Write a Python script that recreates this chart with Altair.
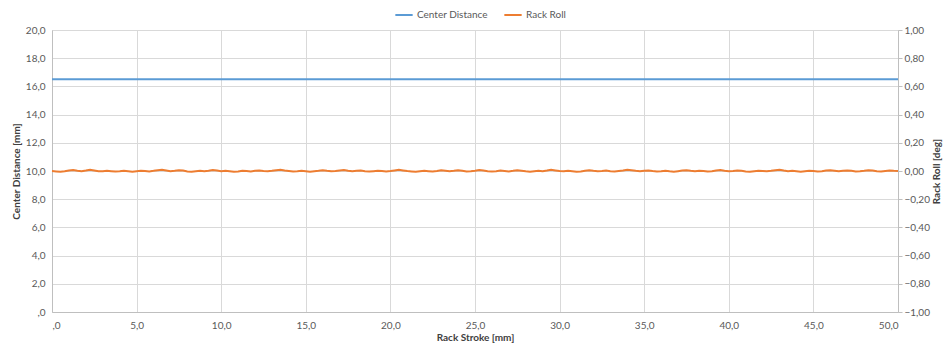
import altair as alt
import pandas as pd

# Data
cd_x = [0.0, 50.0]
cd_y = [16.5, 16.5]

rr_y = [0.000, -0.003, -0.006, -0.002, 0.004, 0.007, 0.002, -0.001, 0.003, 0.008,
        0.003, -0.002, -0.001, 0.002, -0.001, -0.004, -0.002, 0.001, -0.002, -0.005,
        -0.001, 0.002, 0.000, -0.003, 0.001, 0.006, 0.009, 0.004, -0.001, 0.002,
        0.006, 0.003, -0.003, -0.006, -0.002, 0.001, -0.002, 0.002, 0.007, 0.003,
        -0.001, 0.001, -0.002, -0.006, -0.003, 0.002, 0.000, -0.003, 0.001, 0.004,
        0.000, -0.002, 0.001, 0.006, 0.009, 0.003, 0.000, -0.003, -0.001, 0.002,
        -0.001, -0.005, -0.002, 0.001, 0.005, 0.001, -0.002, 0.000, 0.004, 0.007,
        0.002, -0.002, 0.001, 0.003, -0.001, -0.004, -0.001, 0.002, 0.000, -0.003,
        0.000, 0.004, 0.008, 0.004, 0.000, -0.003, -0.006, -0.002, 0.002, -0.001,
        -0.004, 0.000, 0.005, 0.002, -0.002, 0.001, 0.005, 0.002, -0.003, -0.001,
        0.002, 0.007, 0.003, -0.001, -0.004, -0.001, 0.003, 0.000, -0.003, 0.001,
        0.006, 0.002, -0.002, -0.005, -0.002, 0.001, -0.001, 0.003, 0.008, 0.004,
        0.000, -0.002, 0.001, -0.002, -0.006, -0.003, 0.002, 0.005, 0.001, -0.002,
        0.000, 0.003, -0.001, -0.004, 0.000, 0.004, 0.009, 0.005, 0.001, -0.002,
        0.001, 0.004, 0.000, -0.003, -0.001, 0.002, -0.002, -0.005, -0.001, 0.003,
        0.006, 0.002, -0.001, 0.002, 0.000, -0.004, -0.001, 0.003, 0.007, 0.002,
        -0.002, 0.000, 0.004, 0.001, -0.003, -0.006, -0.002, 0.002, 0.000, -0.002,
        0.001, 0.005, 0.008, 0.003, -0.001, 0.001, -0.002, -0.005, -0.001, 0.002,
        0.000, -0.004, -0.001, 0.003, 0.006, 0.002, -0.002, 0.001, 0.004, 0.001,
        -0.003, -0.001, 0.002, 0.006, 0.003, -0.002, -0.004, 0.000, 0.003, 0.001,
        0.000]
rr_x = [i * 0.25 for i in range(201)]

series = ["Center Distance", "Rack Roll"]
colors = ["#5b9bd5", "#ed7d31"]

df_cd = pd.DataFrame({"x": cd_x, "y": cd_y, "series": series[0]})
df_rr = pd.DataFrame({"x": rr_x, "y": rr_y, "series": series[1]})

FONT = "Lato"
LBL = "#595959"
TTL = "#404040"
GRID = "#d9d9d9"

color = alt.Color("series:N", scale=alt.Scale(domain=series, range=colors),
                  legend=alt.Legend(title=None, orient="none", direction="horizontal",
                                    legendX=342, legendY=-25, padding=0, symbolType="stroke",
                                    symbolSize=300, symbolStrokeWidth=2,
                                    labelFont=FONT, labelFontSize=10, labelColor=LBL,
                                    columnPadding=12, labelOffset=3))

x_enc = alt.X("x:Q", scale=alt.Scale(domain=[0, 50], nice=False),
              axis=alt.Axis(title="Rack Stroke [mm]", values=[0, 5, 10, 15, 20, 25, 30, 35, 40, 45, 50],
                            labelExpr="datum.value == 0 ? ',0' : replace(format(datum.value, '.1f'), '.', ',')",
                            ticks=False, labelPadding=8, titlePadding=2,
                            grid=True, gridColor=GRID, domainColor="#bfbfbf",
                            labelFont=FONT, labelFontSize=10, labelColor=LBL,
                            titleFont=FONT, titleFontSize=10, titleColor=TTL, titleFontWeight="bold"))

cd = alt.Chart(df_cd).mark_line(strokeWidth=2).encode(
    x=x_enc,
    y=alt.Y("y:Q", scale=alt.Scale(domain=[0, 20], nice=False),
            axis=alt.Axis(title="Center Distance [mm]", values=list(range(0, 21, 2)),
                          labelExpr="datum.value == 0 ? ',0' : replace(format(datum.value, '.1f'), '.', ',')",
                          ticks=False, labelPadding=7, titlePadding=4,
                          grid=True, gridColor=GRID, domainColor="#bfbfbf",
                          labelFont=FONT, labelFontSize=10, labelColor=LBL,
                          titleFont=FONT, titleFontSize=10, titleColor=TTL, titleFontWeight="bold")),
    color=color,
)

rr = alt.Chart(df_rr).mark_line(strokeWidth=2).encode(
    x=x_enc,
    y=alt.Y("y:Q", scale=alt.Scale(domain=[-1, 1], nice=False),
            axis=alt.Axis(title="Rack Roll [deg]", orient="right",
                          values=[-1, -0.8, -0.6, -0.4, -0.2, 0, 0.2, 0.4, 0.6, 0.8, 1],
                          labelExpr="replace(format(datum.value, '.2f'), '.', ',')",
                          ticks=True, tickSize=4, tickColor="#bfbfbf", labelPadding=2,
                          titleAngle=270, titlePadding=12,
                          grid=False, domainColor="#bfbfbf",
                          labelFont=FONT, labelFontSize=10, labelColor=LBL,
                          titleFont=FONT, titleFontSize=10, titleColor=TTL, titleFontWeight="bold")),
    color=color,
)

chart = alt.layer(cd, rr).resolve_scale(y="independent").properties(
    width=846, height=282,
    autosize=alt.AutoSizeParams(type="none"),
    padding={"left": 44, "top": 22, "right": 46, "bottom": 32},
).configure_view(stroke=None).configure(background="white")

chart.save("out.html", embed_options={"renderer": "svg", "actions": False})
